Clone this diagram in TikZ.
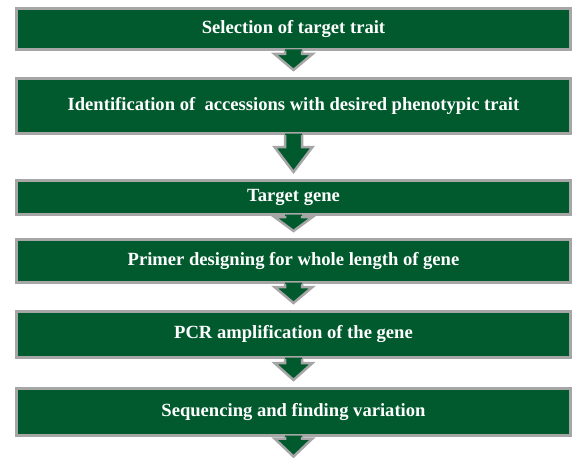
\documentclass[tikz,border=0pt]{standalone}
\usepackage{fontspec}
\setmainfont{Liberation Serif}
\usetikzlibrary{calc}

\definecolor{boxgreen}{RGB}{0,90,45}
\definecolor{rimgray}{RGB}{166,166,166}

% block arrow from a box down to a point: source, target point, head length
\newcommand{\flowarrow}[3]{%
\fill[boxgreen] ($(#1.south)+(-8.5,1.5)$) -- ($(#2)+(-8.5,#3+7)$) -- ($(#2)+(-19,#3+7)$) -- ($(#2)+(0,7)$) -- ($(#2)+(19,#3+7)$) -- ($(#2)+(8.5,#3+7)$) -- ($(#1.south)+(8.5,1.5)$) -- cycle;
\draw[arrowline] ($(#1.south)+(-8.5,0)$) -- ($(#2)+(-8.5,#3+7)$) -- ($(#2)+(-19,#3+7)$) -- ($(#2)+(0,7)$) -- ($(#2)+(19,#3+7)$) -- ($(#2)+(8.5,#3+7)$) -- ($(#1.south)+(8.5,0)$);
}

\begin{document}
\begin{tikzpicture}[x=1pt, y=1pt,
  stepbox/.style={draw=rimgray, line width=3pt, fill=boxgreen, text=white, minimum width=554pt, inner sep=0pt,
    font=\fontsize{18.6}{21}\selectfont\bfseries},
  arrowline/.style={draw=rimgray, line width=2.5pt, line join=miter}]
\useasboundingbox (0,0) rectangle (576,459);
%Boxes
\node (select) at (293.5,430) [stepbox, minimum height=41pt] {Selection of target trait};
\node (ident) at (293.5,353) [stepbox, minimum height=55pt] {Identification of~~accessions with desired phenotypic trait};
\node (gene) at (293.5,261.5) [stepbox, minimum height=34pt] {Target gene};
\node (primer) at (293.5,198) [stepbox, minimum height=43pt] {Primer designing for whole length of gene};
\node (pcr) at (293.5,124.5) [stepbox, minimum height=46pt] {PCR amplification of the gene};
\node (seq) at (293.5,47) [stepbox, minimum height=47pt] {Sequencing and finding variation};
\coordinate (end) at (293.5,-4.5);
%Arrows
\flowarrow{select}{ident.north}{16}
\flowarrow{ident}{gene.north}{25}
\flowarrow{gene}{primer.north}{14}
\flowarrow{primer}{pcr.north}{16}
\flowarrow{pcr}{seq.north}{17}
\flowarrow{seq}{end}{18}
\end{tikzpicture}
\end{document}
